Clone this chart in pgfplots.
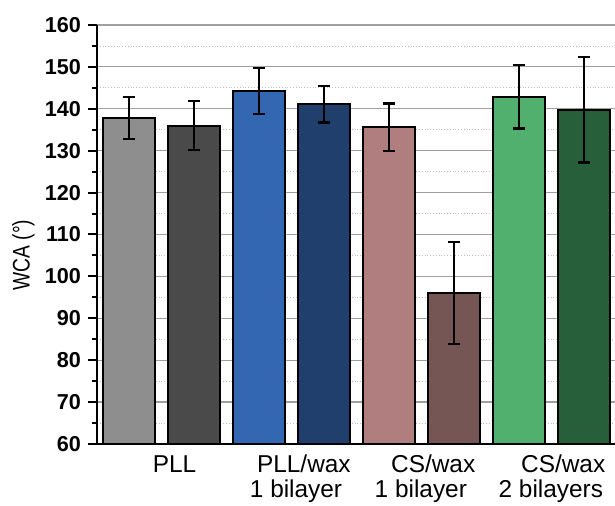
\documentclass[border=0pt]{standalone}
\usepackage{pgfplots}
\pgfplotsset{compat=1.18}
\usepackage{fontspec}
\setmainfont{Liberation Sans}
\definecolor{c1}{HTML}{8E8E8E}
\definecolor{c2}{HTML}{4A4A4A}
\definecolor{c3}{HTML}{3467B2}
\definecolor{c4}{HTML}{213F6D}
\definecolor{c5}{HTML}{B07E7E}
\definecolor{c6}{HTML}{755654}
\definecolor{c7}{HTML}{51B06E}
\definecolor{c8}{HTML}{275F3A}
\begin{document}
\begin{tikzpicture}
\begin{axis}[
  scale only axis,
  width=259pt, height=209.5pt,
  xmin=-0.492, xmax=7.477,
  ymin=60, ymax=160,
  ytick={60,70,...,160},
  minor y tick num=1,
  axis lines=left,
  axis line style={-, line width=1pt, black},
  tick align=outside,
  major tick length=4.5pt,
  minor tick length=2.5pt,
  every tick/.style={black, line width=1pt},
  ymajorgrids, yminorgrids,
  major grid style={gray!75, line width=0.6pt},
  minor grid style={gray!50, densely dotted, line width=0.4pt},
  /pgf/number format/assume math mode=true,
  yticklabel style={font=\bfseries\fontsize{10.8}{12}\selectfont},
  xtick={0.70,2.69,4.68,6.68},
  xticklabels={PLL, PLL/wax, CS/wax, CS/wax},
  xtick style={draw=none},
  xticklabel style={font=\fontsize{12.2}{14}\selectfont, anchor=base, yshift=-9.85pt},
  extra x ticks={2.57,4.49,6.49},
  extra x tick labels={1 bilayer, 1 bilayer, 2 bilayers},
  extra x tick style={grid=none, major tick length=0pt, tick style={draw=none},
     xticklabel style={yshift=-16.8pt}},
  ylabel={\scalebox{1}[1.25]{WCA (°)}},
  ylabel style={font=\fontsize{9.6}{11}\selectfont, at={(axis description cs:-0.142,0.451)}, anchor=center, rotate=0},
  clip=false,
]
\pgfplotsset{bs/.style={ybar, bar width=0.8, bar shift=0pt, draw=black, line width=1pt,
   error bars/.cd, y dir=both, y explicit, error mark options={rotate=90, mark size=2.8pt, line width=1.2pt, black},
   error bar style={line width=1.2pt, black}, /pgfplots/.cd}}
\addplot[bs, fill=c1] coordinates {(0,137.8) +- (0,5.0)};
\addplot[bs, fill=c2] coordinates {(1,136.0) +- (0,5.9)};
\addplot[bs, fill=c3] coordinates {(2,144.2) +- (0,5.5)};
\addplot[bs, fill=c4] coordinates {(3,141.1) +- (0,4.4)};
\addplot[bs, fill=c5] coordinates {(4,135.6) +- (0,5.7)};
\addplot[bs, fill=c6] coordinates {(5,96.0) +- (0,12.2)};
\addplot[bs, fill=c7] coordinates {(6,142.9) +- (0,7.6)};
\addplot[bs, fill=c8] coordinates {(7,139.8) +- (0,12.6)};
\coordinate (ll) at (rel axis cs:-0.1873,-0.148);
\coordinate (ur) at (rel axis cs:1,1.0597);
\end{axis}
\pgfresetboundingbox
\path[use as bounding box] (ll) rectangle (ur);
\end{tikzpicture}
\end{document}
